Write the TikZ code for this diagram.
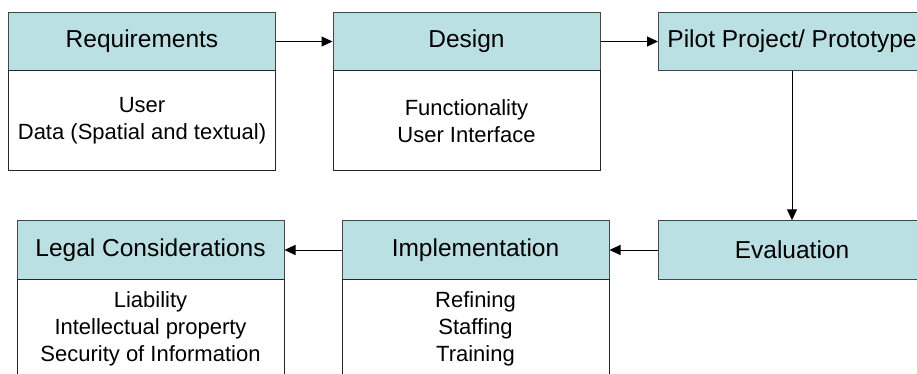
\documentclass[tikz,border=0pt]{standalone}
\usepackage{fontspec}
\setmainfont{Liberation Sans}
\usepackage{tikz}
\usetikzlibrary{positioning,arrows.meta}

\definecolor{headfill}{RGB}{187,224,227}
\definecolor{edgegray}{RGB}{70,70,70}

\tikzset{
  head/.style={draw=edgegray, fill=headfill, line width=1pt, minimum width=267pt,
    minimum height=58.5pt, inner sep=1pt, font=\fontsize{24.5}{29}\selectfont},
  body/.style={draw=black!85, fill=white, line width=1pt, minimum width=267pt,
    minimum height=100pt, align=center, font=\fontsize{22}{27}\selectfont},
  link/.style={line width=1pt, -{Triangle[length=11pt,width=10pt]}}
}

\begin{document}
\begin{tikzpicture}
    \clip (0,0) rectangle (917pt,-374pt);

    % draw header boxes
    \node[head] (req)   at (142pt,-41.5pt)  {Requirements};
    \node[head] (des)   at (466.5pt,-41.5pt) {Design};
    \node[head] (pilot) at (792pt,-41.5pt)  {Pilot Project/ Prototype};
    \node[head] (eval)  at (792pt,-250pt)   {Evaluation};
    \node[head] (impl)  at (475.5pt,-250pt) {Implementation};
    \node[head] (legal) at (150.5pt,-250pt) {Legal Considerations};

    % draw body boxes
    \node[body, below=-1pt of req]   (reqbody)   {User\\Data (Spatial and textual)};
    \node[body, below=-1pt of des]   (desbody)   {Functionality\\User Interface};
    \node[body, below=-1pt of impl]  (implbody)  {Refining\\Staffing\\Training};
    \node[body, below=-1pt of legal] (legalbody) {Liability\\Intellectual property\\Security of Information};

    % draw arrows
    \draw[link] (req) -- (des);
    \draw[link] (des) -- (pilot);
    \draw[link] (pilot) -- (eval);
    \draw[link] (eval) -- (impl);
    \draw[link] (impl) -- (legal);
\end{tikzpicture}
\end{document}
